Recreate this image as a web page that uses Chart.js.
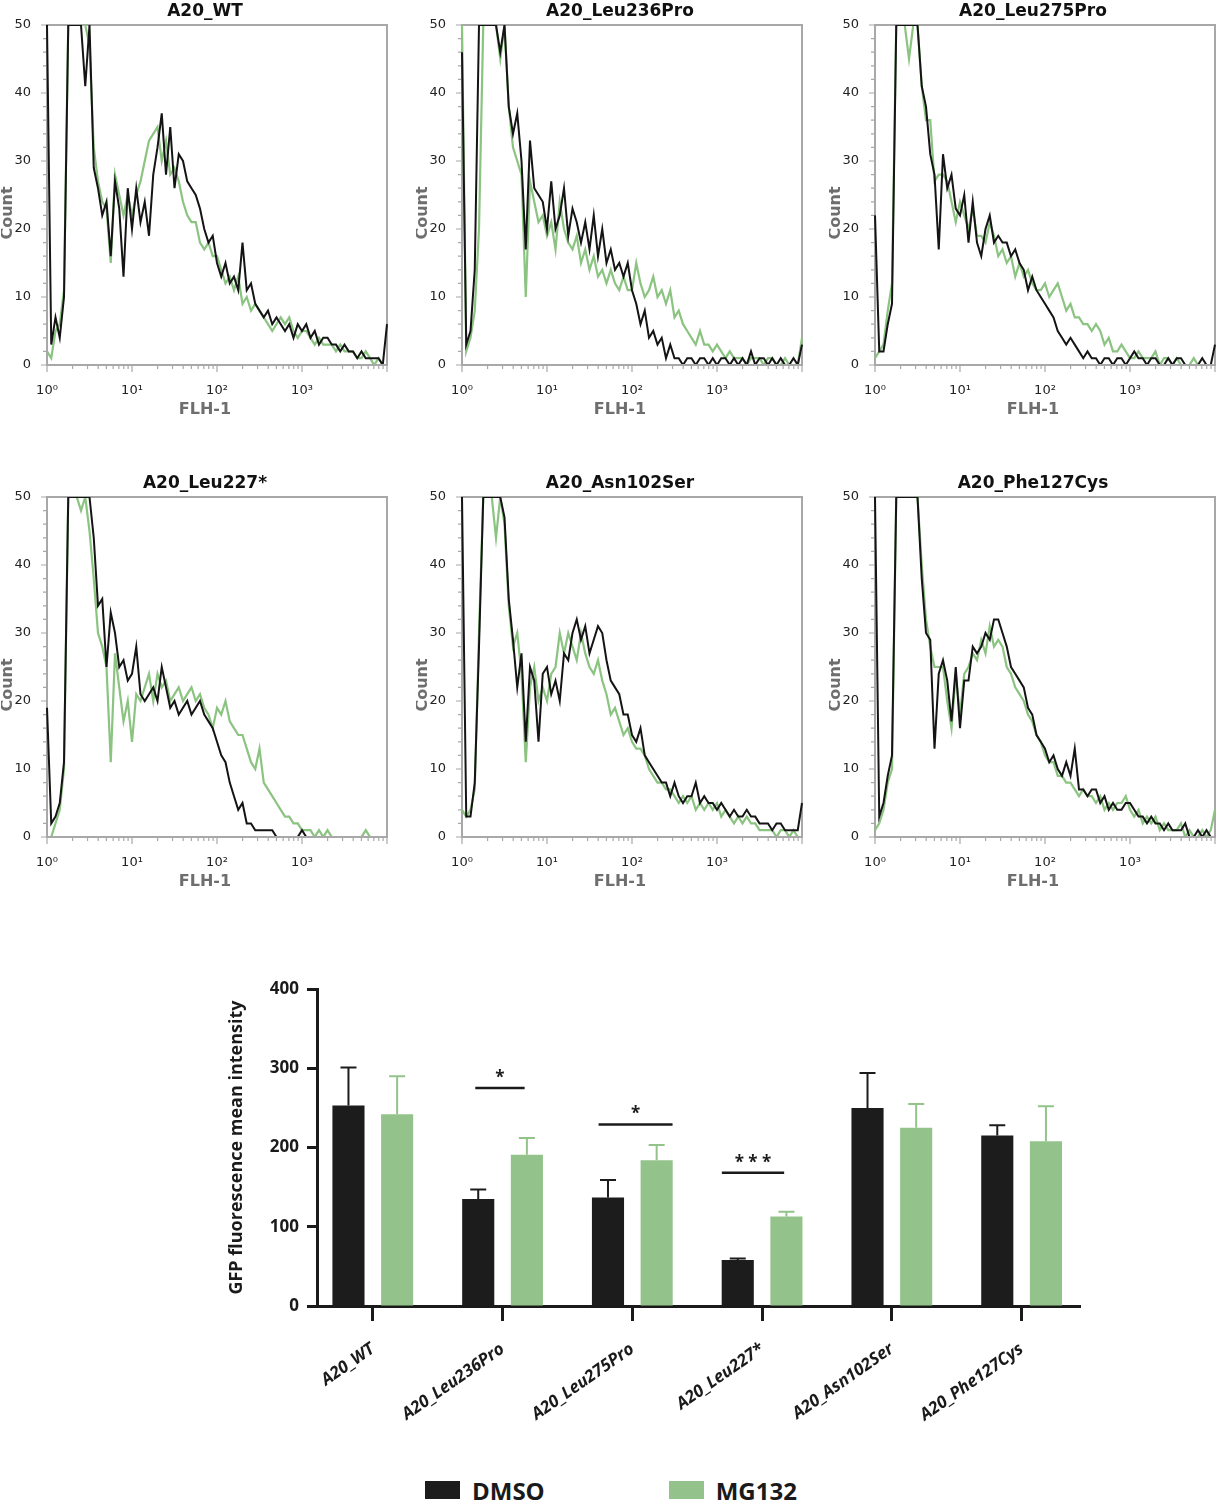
<!DOCTYPE html>
<html>
<head>
<meta charset="utf-8">
<script src="https://cdn.jsdelivr.net/npm/chart.js@4.4.1/dist/chart.umd.min.js"></script>
<style>
  body { margin: 0; background: #fff; }
  #fig { position: relative; width: 1218px; height: 1500px; background: #fff; overflow: hidden; }
  .box { position: absolute; }
  .legend { position: absolute; top: 1478px; left: 425px; height: 24px; display: flex; align-items: center;
            font: bold 24px "Open Sans", sans-serif; color: #1a1a1a; }
  .sw { display: inline-block; width: 35px; height: 18px; margin-right: 12px; }
</style>
</head>
<body>
<div id="fig">
  <div class="box" style="left:1px;top:0;width:400px;height:425px"><canvas id="h0"></canvas></div>
  <div class="box" style="left:416px;top:0;width:400px;height:425px"><canvas id="h1"></canvas></div>
  <div class="box" style="left:829px;top:0;width:400px;height:425px"><canvas id="h2"></canvas></div>
  <div class="box" style="left:1px;top:472px;width:400px;height:425px"><canvas id="h3"></canvas></div>
  <div class="box" style="left:416px;top:472px;width:400px;height:425px"><canvas id="h4"></canvas></div>
  <div class="box" style="left:829px;top:472px;width:400px;height:425px"><canvas id="h5"></canvas></div>
  <div class="box" style="left:223px;top:960px;width:995px;height:490px"><canvas id="bars"></canvas></div>
  <div class="legend">
    <span class="sw" id="swDmso"></span><span>DMSO</span>
    <span class="sw" id="swMg" style="margin-left:124px"></span><span>MG132</span>
  </div>
</div>
<script>
// samples
const CATEGORIES = ['A20_WT', 'A20_Leu236Pro', 'A20_Leu275Pro', 'A20_Leu227*', 'A20_Asn102Ser', 'A20_Phe127Cys']

// bar chart: GFP mean intensity, mean and upper error
const DMSO_MEAN = [253, 135, 137, 58, 250, 215]
const DMSO_ERR = [48, 12, 22, 2, 44, 13]
const MG132_MEAN = [242, 191, 184, 113, 225, 208]
const MG132_ERR = [48, 21, 19, 6, 30, 44]

// significance brackets (category units / value units)
const SIG_FROM = [0.79, 1.74, 2.69]
const SIG_TO = [1.17, 2.31, 3.17]
const SIG_LEVEL = [275, 229, 168]
const SIG_TEXT = ['*', '*', '* * *']

// FLH-1 histograms, 20 channels per decade from 10^0 to 10^4 (counts clipped at 50)
const FLH_STEPS_PER_DECADE = 20
const FLH_CHANNELS = Array.from({ length: 81 }, (_, i) => Math.pow(10, i / FLH_STEPS_PER_DECADE))

const WT_DMSO = [50,3,7,4,10,50,50,50,50,41, 50,29,26,22,24,16,27,23,13,26, 20,26,21,24,19,28,32,37,28,35, 26,31,30,27,26,25,23,20,18,19, 15,13,15,12,13,11,18,11,12,9, 8,7,8,6,7,6,5,6,4,6, 5,6,4,5,3,4,4,3,3,2, 3,2,2,1,2,1,1,1,1,0, 6]
const WT_MG132 = [2,1,5,6,11,50,50,50,50,50, 47,32,27,24,23,15,28,25,22,25, 22,25,27,30,33,34,35,30,33,28, 29,27,24,22,21,21,18,17,18,16, 16,14,12,13,11,13,9,10,8,9, 8,7,6,5,6,7,6,7,5,4, 5,5,4,3,4,3,3,3,2,3, 2,2,2,1,1,2,1,0,1,0, 0]

const L236_DMSO = [46,3,5,14,50,50,50,50,50,46, 50,38,34,37,30,17,33,26,25,24, 20,27,20,22,26,19,23,21,18,21, 17,22,16,20,15,17,14,15,13,15, 11,9,6,8,4,5,3,4,1,3, 1,1,0,1,1,0,1,1,0,1, 0,1,1,0,1,0,1,0,2,0, 1,1,0,1,0,1,0,0,1,0, 3]
const L236_MG132 = [50,2,4,8,20,50,50,50,50,45, 50,38,32,30,28,10,27,24,21,22, 19,21,17,24,20,18,17,19,15,17, 14,16,13,14,12,14,12,11,13,11, 11,15,12,10,11,13,10,11,9,11, 7,8,6,5,4,3,5,3,3,2, 3,2,1,2,1,1,1,0,1,1, 1,0,1,1,0,0,1,0,0,0, 4]

const L275_DMSO = [22,2,2,6,9,50,50,50,50,50, 50,41,38,31,28,17,31,26,28,23, 22,25,18,24,18,16,20,22,18,19, 18,18,16,17,15,14,11,13,11,10, 9,8,7,5,4,3,4,3,2,1, 2,1,1,0,1,1,0,1,1,0, 1,2,1,1,0,1,1,0,0,1, 0,1,1,0,0,0,0,1,0,0, 3]
const L275_MG132 = [1,2,3,8,12,50,50,50,45,50, 50,41,36,36,27,28,28,27,24,21, 24,22,20,23,19,19,18,21,19,16, 17,15,16,13,15,13,14,12,11,11, 12,10,11,12,10,8,9,7,7,6, 6,5,6,5,3,4,2,2,3,2, 1,1,2,1,1,1,2,0,1,1, 0,1,0,0,0,1,0,0,0,0, 0]

const L227_DMSO = [19,2,3,5,11,50,50,50,50,50, 50,44,34,35,25,33,30,25,26,23, 24,28,21,20,21,22,20,25,22,19, 20,18,19,20,18,19,20,18,17,16, 14,12,11,8,6,4,5,2,2,1, 1,1,1,1,0,0,0,0,0,0, 1,0,0,0,0,0,0,0,0,0, 0,0,0,0,0,0,0,0,0,0, 0]
const L227_MG132 = [0,0,2,4,10,50,50,50,48,50, 45,38,30,28,25,11,27,22,17,20, 14,21,20,22,24,20,24,22,23,20, 21,22,20,21,22,20,21,19,18,16, 19,18,20,17,16,15,15,13,11,10, 13,8,7,6,5,4,3,3,2,2, 1,1,1,0,1,0,1,0,0,0, 0,0,0,0,0,1,0,0,0,0, 0]

const ASN_DMSO = [50,3,3,8,28,50,50,50,50,50, 47,35,29,22,27,14,25,23,14,24, 25,21,23,20,27,26,30,32,29,31, 27,29,31,30,26,23,22,21,18,18, 15,14,16,12,11,10,9,8,8,6, 8,6,5,6,6,8,5,6,5,5, 4,5,4,3,4,3,3,4,3,3, 2,2,2,1,2,2,1,1,1,1, 5]
const ASN_MG132 = [4,3,4,7,30,50,50,50,44,50, 46,34,28,30,24,11,22,25,20,22, 20,24,25,30,27,30,28,26,30,27, 25,24,26,23,21,18,19,17,15,16, 14,13,13,12,10,9,8,8,7,7, 6,5,6,5,6,4,5,4,5,4, 5,3,4,3,2,3,2,3,2,2, 1,1,1,1,0,1,1,0,1,0, 0]

const PHE_DMSO = [50,3,5,9,12,50,50,50,50,50, 50,38,30,29,13,24,26,23,17,25, 16,23,23,28,27,28,30,29,32,32, 30,28,25,24,23,22,19,18,15,14, 13,11,12,10,9,11,9,13,7,7, 6,7,7,5,6,4,5,4,4,5, 5,4,3,3,2,3,2,2,1,2, 1,1,1,2,0,0,1,0,1,0, 0]
const PHE_MG132 = [1,2,4,8,10,50,50,50,50,50, 50,40,32,28,25,25,25,20,16,24, 18,24,25,27,26,29,27,31,28,29, 28,25,24,22,21,20,18,17,15,14, 12,11,11,9,9,8,8,7,6,7, 6,6,5,6,4,5,4,5,5,6, 4,3,4,2,3,2,3,1,2,1, 1,1,2,0,1,0,0,1,0,1, 4]

const HIST_DMSO = [WT_DMSO, L236_DMSO, L275_DMSO, L227_DMSO, ASN_DMSO, PHE_DMSO]
const HIST_MG132 = [WT_MG132, L236_MG132, L275_MG132, L227_MG132, ASN_MG132, PHE_MG132]

// log axis tick marks
const DECADES = [1, 10, 100, 1000]
const SIGNIFICANDS = [1, 2, 3, 4, 5, 6, 7, 8, 9]
const SUP = ['\u2070', '\u00b9', '\u00b2', '\u00b3']

const INK = '#141414'
const FRAME = '#a8a8a8'
const LINE_GREEN = '#8bc381'
const BAR_BLACK = '#1c1c1c'
const BAR_GREEN = '#93c38b'
const AXIS = '#1a1a1a'

function histDecor(title) {
  return {
    id: 'histDecor',
    beforeDatasetsDraw(chart) {
      const { ctx, chartArea: a, scales: { x, y } } = chart
      ctx.save()
      ctx.strokeStyle = FRAME
      ctx.lineWidth = 2
      ctx.strokeRect(a.left, a.top, a.right - a.left, a.bottom - a.top)
      ctx.lineWidth = 1.2
      ctx.beginPath()
      x.ticks.forEach(t => {
        const px = x.getPixelForValue(t.value)
        ctx.moveTo(px, a.bottom); ctx.lineTo(px, a.bottom + (t.major ? 7 : 4))
      })
      y.ticks.forEach(t => {
        const py = y.getPixelForValue(t.value)
        ctx.moveTo(a.left - (t.value % 10 === 0 ? 6 : 4), py); ctx.lineTo(a.left, py)
      })
      ctx.stroke()
      ctx.textAlign = 'center'
      ctx.textBaseline = 'alphabetic'
      ctx.fillStyle = '#111'
      ctx.font = 'bold 17px "DejaVu Sans"'
      ctx.fillText(title, 204, a.top - 9)
      ctx.textBaseline = 'middle'
      ctx.fillStyle = '#6e6e6e'
      ctx.font = 'bold 16px "DejaVu Sans"'
      ctx.fillText('FLH-1', 204, a.bottom + 45)
      ctx.translate(7, a.top + 188)
      ctx.rotate(-Math.PI / 2)
      ctx.fillText('Count', 0, 0)
      ctx.restore()
    },
  }
}

function mkHist(k) {
  const toPts = arr => FLH_CHANNELS.map((x, i) => ({ x, y: arr[i] }))
  const clip = { left: 2, right: 2, top: 0, bottom: -1 }
  new Chart(document.getElementById('h' + k), {
    type: 'line',
    data: {
      datasets: [
        { label: 'DMSO', data: toPts(HIST_DMSO[k]), borderColor: INK, borderWidth: 2, pointRadius: 0, tension: 0, clip },
        { label: 'MG132', data: toPts(HIST_MG132[k]), borderColor: LINE_GREEN, borderWidth: 2.2, pointRadius: 0, tension: 0, clip },
      ],
    },
    options: {
      responsive: true, maintainAspectRatio: false, animation: false,
      layout: { padding: { top: 25, right: 14, bottom: 0, left: 0 } },
      plugins: { legend: { display: false }, tooltip: { enabled: false } },
      scales: {
        x: {
          type: 'logarithmic', min: 1, max: 10000,
          afterBuildTicks: s => {
            s.ticks = DECADES.flatMap(d => SIGNIFICANDS.map(m => ({ value: m * d, major: m === 1 })))
              .concat([{ value: 10000, major: true }])
          },
          afterFit: s => { s.height = 60 },
          grid: { display: false }, border: { display: false },
          ticks: {
            autoSkip: false, maxRotation: 0, padding: 10, color: '#222', font: { family: 'DejaVu Sans', size: 13 },
            callback: (v, i, ticks) => {
              const e = Math.round(Math.log10(v))
              return ticks[i].major && e < 4 ? '10' + SUP[e] : ''
            },
          },
        },
        y: {
          min: 0, max: 50,
          afterFit: s => { s.width = 46 },
          grid: { display: false }, border: { display: false },
          ticks: {
            stepSize: 2, autoSkip: false, padding: 8, color: '#222', font: { family: 'DejaVu Sans', size: 13 },
            callback: v => (v % 10 === 0 ? v : ''),
          },
        },
      },
    },
    plugins: [histDecor(CATEGORIES[k])],
  })
}

const barExtras = {
  id: 'barExtras',
  afterDatasetsDraw(chart) {
    const { ctx, scales: { x, y } } = chart
    const errs = [DMSO_ERR, MG132_ERR]
    const means = [DMSO_MEAN, MG132_MEAN]
    ctx.save()
    chart.data.datasets.forEach((ds, di) => {
      ctx.strokeStyle = ds.backgroundColor
      ctx.lineWidth = 2
      chart.getDatasetMeta(di).data.forEach((bar, i) => {
        const top = y.getPixelForValue(means[di][i] + errs[di][i])
        ctx.beginPath()
        ctx.moveTo(bar.x, bar.y); ctx.lineTo(bar.x, top)
        ctx.moveTo(bar.x - 8, top); ctx.lineTo(bar.x + 8, top)
        ctx.stroke()
      })
    })
    ctx.strokeStyle = AXIS
    ctx.fillStyle = AXIS
    ctx.lineWidth = 2.5
    ctx.font = 'bold 17px "Open Sans"'
    ctx.textAlign = 'center'
    ctx.textBaseline = 'middle'
    SIG_FROM.forEach((from, k) => {
      const x0 = x.getPixelForValue(from), x1 = x.getPixelForValue(SIG_TO[k])
      const py = y.getPixelForValue(SIG_LEVEL[k])
      ctx.beginPath(); ctx.moveTo(x0, py); ctx.lineTo(x1, py); ctx.stroke()
      ctx.fillText(SIG_TEXT[k], (x0 + x1) / 2, py - 10)
    })
    ctx.restore()
  },
}

function mkBars() {
  new Chart(document.getElementById('bars'), {
    type: 'bar',
    data: {
      datasets: [
        { label: 'DMSO', data: DMSO_MEAN.map((v, i) => ({ x: i, y: v })), backgroundColor: BAR_BLACK, borderWidth: 0 },
        { label: 'MG132', data: MG132_MEAN.map((v, i) => ({ x: i, y: v })), backgroundColor: BAR_GREEN, borderWidth: 0 },
      ],
    },
    options: {
      responsive: true, maintainAspectRatio: false, animation: false,
      datasets: { bar: { categoryPercentage: 0.75, barPercentage: 0.66 } },
      layout: { padding: { top: 29, right: 138, bottom: 0, left: 0 } },
      plugins: { legend: { display: false }, tooltip: { enabled: false } },
      scales: {
        x: {
          type: 'linear', min: -0.43, max: 5.45, offset: false,
          afterBuildTicks: s => { s.ticks = CATEGORIES.map((_, i) => ({ value: i })) },
          afterFit: s => { s.height = 144 },
          grid: { drawOnChartArea: false, offset: false, tickLength: 15, tickWidth: 3, tickColor: AXIS },
          border: { color: AXIS, width: 3 },
          ticks: {
            autoSkip: false, minRotation: 35, maxRotation: 35, padding: 18, color: AXIS,
            font: { family: 'Open Sans', size: 17, weight: 'bold', style: 'italic' },
            callback: v => CATEGORIES[v],
          },
        },
        y: {
          min: 0, max: 400,
          afterFit: s => { s.width = 94 },
          grid: { drawOnChartArea: false, tickLength: 10, tickWidth: 3, tickColor: AXIS },
          border: { color: AXIS, width: 3 },
          ticks: { stepSize: 100, padding: 8, color: AXIS, font: { family: 'Open Sans', size: 17, weight: 'bold' } },
          title: {
            display: true, text: 'GFP fluorescence mean intensity', color: AXIS,
            font: { family: 'Open Sans', size: 18, weight: 'bold' }, padding: { top: 3, bottom: 4 },
          },
        },
      },
    },
    plugins: [barExtras],
  })
}

document.getElementById('swDmso').style.background = BAR_BLACK
document.getElementById('swMg').style.background = BAR_GREEN
for (let k = 0; k < 6; k++) mkHist(k)
mkBars()
</script>
</body>
</html>
